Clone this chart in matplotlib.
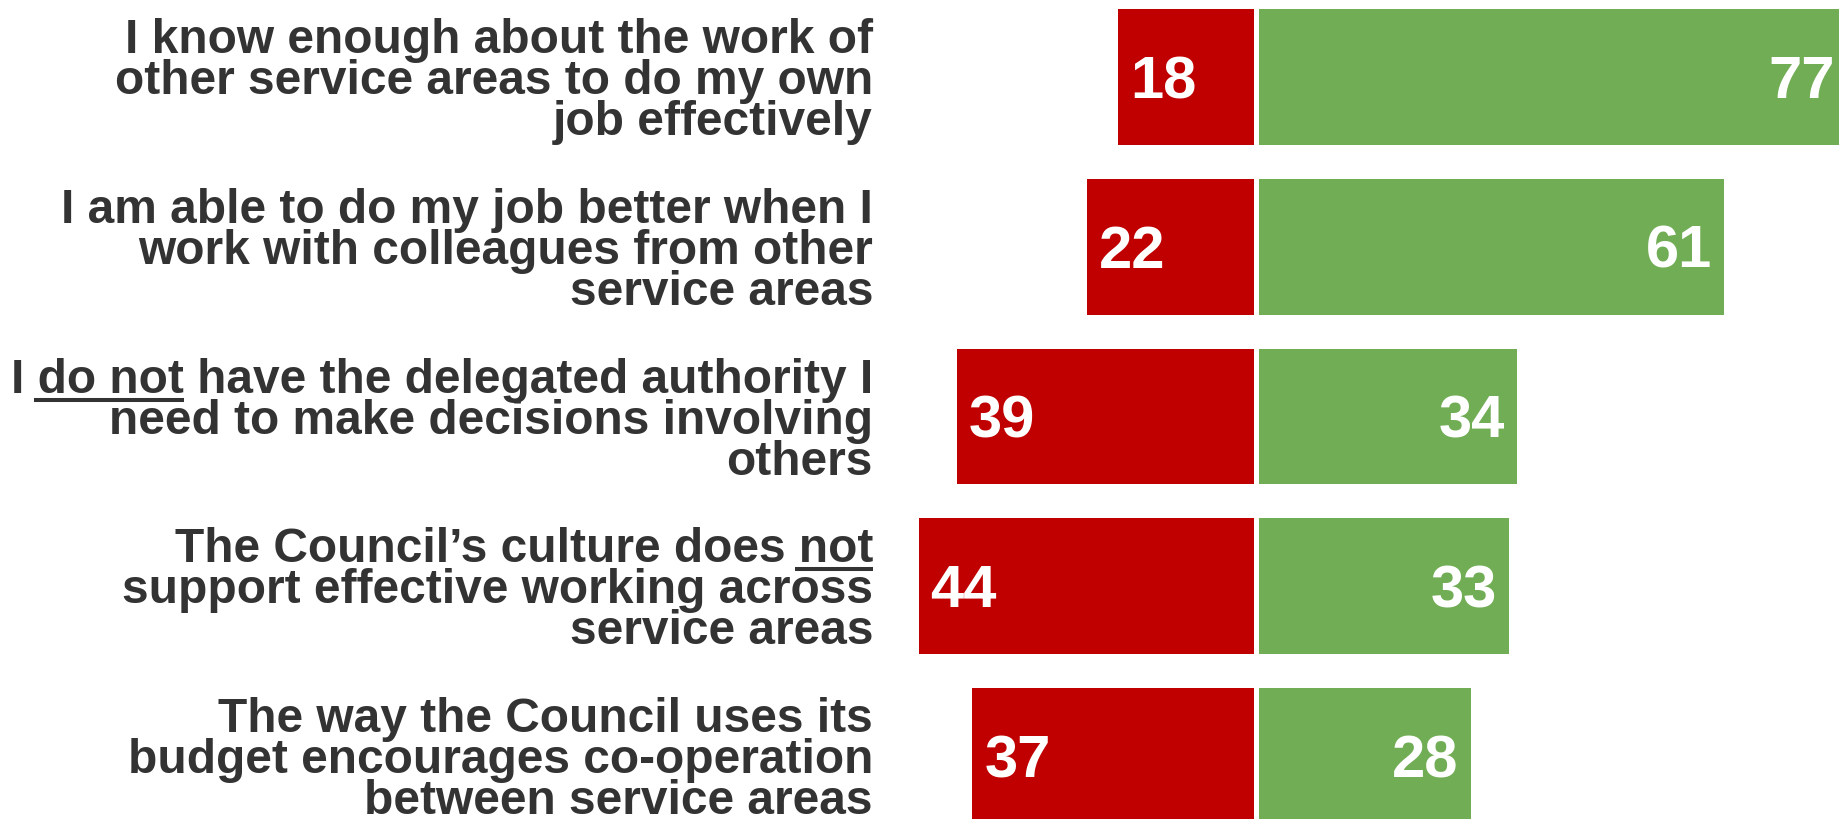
import matplotlib
matplotlib.use("Agg")
import matplotlib.pyplot as plt
from matplotlib.lines import Line2D
from matplotlib.font_manager import FontProperties

# Survey statements (top to bottom) and the % disagreeing / agreeing
statements = [
    "I know enough about the work of\nother service areas to do my own\njob effectively",
    "I am able to do my job better when I\nwork with colleagues from other\nservice areas",
    "I do not have the delegated authority I\nneed to make decisions involving\nothers",
    "The Council\u2019s culture does not\nsupport effective working across\nservice areas",
    "The way the Council uses its\nbudget encourages co-operation\nbetween service areas",
]
disagree = [18, 22, 39, 44, 37]
agree = [77, 61, 34, 33, 28]
# (statement index, line index, text up to the end of the emphasised words, emphasised words)
underlined = [(2, 0, "I do not", "do not"), (3, 0, "The Council\u2019s culture does not", "not")]

RED = "#C00000"
GREEN = "#71AD55"
TEXT = "#333333"

W, H, DPI = 1839, 819, 100
fig = plt.figure(figsize=(W / DPI, H / DPI), dpi=DPI)
ax = fig.add_axes([0, 0, 1, 1])
ax.set_axis_off()

y = list(range(len(statements)))
ax.barh(y, [-v for v in disagree], height=0.80, color=RED, linewidth=0)
ax.barh(y, agree, height=0.80, color=GREEN, linewidth=0)
ax.axvline(0, color="white", linewidth=3.6)

ax.set_xlim(-163.75, 76.0)
ax.set_ylim(4.371, -0.4536)

num_font = FontProperties(family="Liberation Sans", weight="bold", size=43)
lab_font = FontProperties(family="Liberation Sans", weight="bold", size=34.5)

for i, (d, a) in enumerate(zip(disagree, agree)):
    ax.annotate(str(d), xy=(-d, i), xytext=(12, -21), textcoords="offset pixels",
                ha="left", va="baseline", color="white", fontproperties=num_font)
    ax.annotate(str(a), xy=(a, i), xytext=(-12, -21), textcoords="offset pixels",
                ha="right", va="baseline", color="white", fontproperties=num_font,
                annotation_clip=False)

LABEL_X = 873
PITCH = 41
CAP = 34


def baseline_offset(k, n):
    return -CAP / 2 + ((n - 1) / 2 - k) * PITCH


renderer = fig.canvas.get_renderer()
line_artists = {}
for i, text in enumerate(statements):
    lines = text.split("\n")
    n = len(lines)
    for k, line in enumerate(lines):
        t = ax.annotate(line, xy=(LABEL_X, i), xycoords=("figure pixels", "data"),
                        xytext=(0, baseline_offset(k, n)), textcoords="offset pixels",
                        ha="right", va="baseline", color=TEXT,
                        fontproperties=lab_font, annotation_clip=False)
        line_artists[(i, k)] = (t, n)

# Underline emphasised words
for i, k, upto, word in underlined:
    t, n = line_artists[(i, k)]
    bb = t.get_window_extent(renderer)
    w_upto = renderer.get_text_width_height_descent(upto, lab_font, ismath=False)[0]
    w_word = renderer.get_text_width_height_descent(word, lab_font, ismath=False)[0]
    x1 = bb.x0 + w_upto
    x0 = x1 - w_word - 3
    yline = ax.transData.transform((0, i))[1] + baseline_offset(k, n) - 7
    p0 = fig.transFigure.inverted().transform((x0, yline))
    p1 = fig.transFigure.inverted().transform((x1, yline))
    fig.add_artist(Line2D([p0[0], p1[0]], [p0[1], p1[1]], color=TEXT,
                          linewidth=2.9, solid_capstyle="butt",
                          transform=fig.transFigure))

fig.savefig("out.png", dpi=DPI)
